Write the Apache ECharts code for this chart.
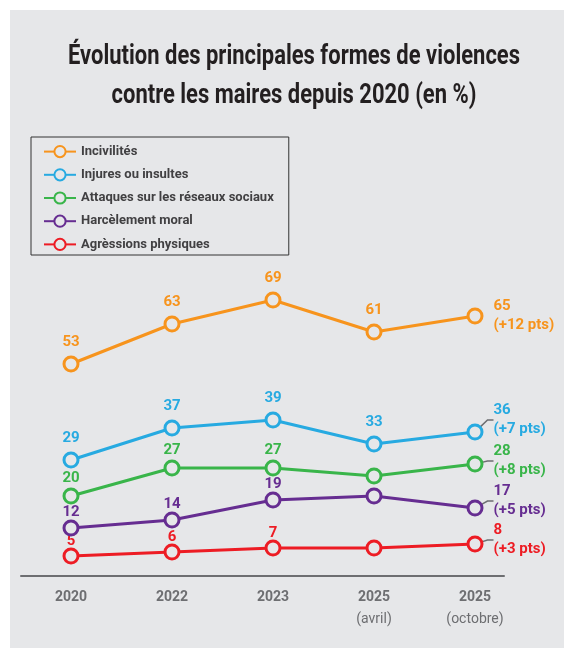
<!DOCTYPE html>
<html>
<head>
<meta charset="utf-8">
<script src="https://cdn.jsdelivr.net/npm/echarts@6/dist/echarts.min.js"></script>
<style>
html,body{margin:0;padding:0;background:#fff;}
#c{width:564px;height:648px;}
</style>
</head>
<body>
<div id="c"></div>
<script>
// ---- data ----
const titleLines = ['Évolution des principales formes de violences', 'contre les maires depuis 2020 (en %)'];
const categories = ['2020', '2022', '2023', '2025 (avril)', '2025 (octobre)'];
const seriesNames = ['Incivilités', 'Injures ou insultes', 'Attaques sur les réseaux sociaux', 'Harcèlement moral', 'Agrèssions physiques'];
const incivilites = [53, 63, 69, 61, 65];
const injures = [29, 37, 39, 33, 36];
const attaques = [20, 27, 27, 25, 28];
const harcelement = [12, 14, 19, 20, 17];
const agressions = [5, 6, 7, 7, 8];
const gains = ['+12 pts', '+7 pts', '+8 pts', '+5 pts', '+3 pts'];
const avrilLabelShown = [true, true, false, false, false];

// ---- style ----
const colors = ['#f7941d', '#27aae1', '#39b54a', '#662d91', '#ed1c24'];
const bg = '#e6e7e9';
const labelDist = [6, 6, 2, 0, -1];
const lastShift = [0, -12, -3, -7, -4];
const values = [incivilites, injures, attaques, harcelement, agressions];
const FONT = 'Roboto, "Liberation Sans", sans-serif';
const TITLE_FONT = 'bold 27px Roboto';

// condense the title horizontally to the reference's width
const cv = document.createElement('canvas').getContext('2d');
cv.font = TITLE_FONT;
const titleScale = 452 / cv.measureText(titleLines[0]).width;

const series = values.map((vals, s) => ({
  name: seriesNames[s],
  type: 'line',
  xAxisIndex: 0,
  yAxisIndex: 0,
  color: colors[s],
  symbol: 'circle',
  symbolSize: 14,
  z: 10 - s,
  lineStyle: { color: colors[s], width: 3 },
  itemStyle: { color: bg, borderColor: colors[s], borderWidth: 3 },
  label: {
    show: true,
    position: 'top',
    distance: labelDist[s],
    color: colors[s],
    fontFamily: FONT,
    fontWeight: 'bold',
    fontSize: 15
  },
  labelLayout: function (p) {
    if (p.dataIndex === 4 && lastShift[s] !== 0) return { dy: lastShift[s] };
    return {};
  },
  data: vals.map((v, i) => {
    if (i === 4) {
      return {
        value: v,
        label: {
          show: true,
          position: 'right',
          distance: 10,
          lineHeight: 19,
          fontSize: 15,
          formatter: '{c}\n(' + gains[s] + ')'
        },
        labelLine: {
          show: s > 0,
          length2: 6,
          lineStyle: { color: '#6d6e71', width: 1.5 }
        }
      };
    }
    if (i === 3 && !avrilLabelShown[s]) return { value: v, label: { show: false } };
    return v;
  })
}));

const chart = echarts.init(document.getElementById('c'), null, { renderer: 'canvas' });
chart.setOption({
  backgroundColor: '#fff',
  animation: false,
  graphic: [{
    type: 'rect', left: 10, top: 10, z: -10,
    shape: { width: 554, height: 638 },
    style: { fill: bg }
  }, {
    type: 'text',
    x: 294,
    y: 38,
    scaleX: titleScale,
    z: 10,
    style: {
      text: titleLines.join('\n'),
      font: TITLE_FONT,
      align: 'center',
      verticalAlign: 'top',
      lineHeight: 39,
      fill: '#231f20'
    }
  }],
  legend: {
    orient: 'vertical',
    left: 31,
    top: 137,
    padding: [8, 15, 4, 12],
    itemGap: 10,
    itemWidth: 32,
    itemHeight: 14,
    borderColor: '#333',
    borderWidth: 1,
    data: seriesNames,
    textStyle: { fontFamily: FONT, fontWeight: 'bold', fontSize: 13, color: '#414042' }
  },
  grid: [
    { left: 20.5, right: 38.5, top: 256, bottom: 72 },
    { left: 21, right: 60, top: 256, bottom: 72 }
  ],
  xAxis: [{
    type: 'category',
    gridIndex: 0,
    data: categories,
    boundaryGap: true,
    axisLine: { show: false },
    axisTick: { show: false },
    axisLabel: {
      margin: 11,
      formatter: function (v) {
        const parts = v.split(' ');
        return parts.length > 1 ? '{a|' + parts[0] + '}\n{b|' + parts[1] + '}' : '{a|' + parts[0] + '}';
      },
      rich: {
        a: { fontFamily: FONT, fontWeight: 'bold', fontSize: 14, color: '#6d6e71', lineHeight: 20 },
        b: { fontFamily: FONT, fontSize: 14, color: '#6d6e71', lineHeight: 24 }
      }
    }
  }, {
    type: 'value',
    gridIndex: 1,
    min: 0, max: 1,
    axisLine: { show: true, lineStyle: { color: '#6d6e71', width: 2 } },
    axisTick: { show: false },
    axisLabel: { show: false },
    splitLine: { show: false }
  }],
  yAxis: [{
    type: 'value', gridIndex: 0, min: 0, max: 80, show: false
  }, {
    type: 'value', gridIndex: 1, min: 0, max: 1, show: false
  }],
  series: series
});
</script>
</body>
</html>
